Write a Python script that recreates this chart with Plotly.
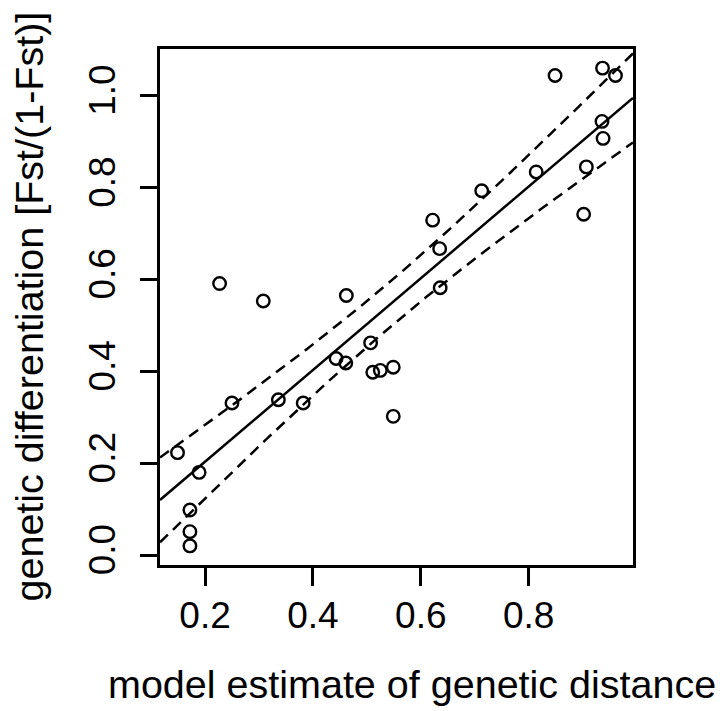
import numpy as np
import plotly.graph_objects as go

# ---- data ----
model_distance = [0.849, 0.937, 0.961, 0.936, 0.938, 0.907, 0.902, 0.814, 0.713, 0.622,
                  0.635, 0.636, 0.227, 0.308, 0.462, 0.507, 0.443, 0.461, 0.511, 0.525,
                  0.549, 0.549, 0.336, 0.382, 0.250, 0.149, 0.189, 0.172, 0.172, 0.172]
fst_ratio = [1.044, 1.060, 1.044, 0.944, 0.907, 0.845, 0.742, 0.834, 0.793, 0.729,
             0.667, 0.582, 0.591, 0.553, 0.565, 0.462, 0.428, 0.418, 0.398, 0.402,
             0.409, 0.302, 0.338, 0.331, 0.331, 0.223, 0.180, 0.098, 0.051, 0.020]
x_ticks = [0.2, 0.4, 0.6, 0.8]
x_tick_labels = ["0.2", "0.4", "0.6", "0.8"]
y_ticks = [0.0, 0.2, 0.4, 0.6, 0.8, 1.0]
y_tick_labels = ["0.0", "0.2", "0.4", "0.6", "0.8", "1.0"]
x_title = "model estimate of genetic distance"
y_title = "genetic differentiation [Fst/(1-Fst)]"
t_crit = 2.048  # 97.5% t quantile, df = 28

x = np.array(model_distance)
y = np.array(fst_ratio)

# R-style axis ranges (4% padding)
def pad(v):
    lo, hi = v.min(), v.max()
    d = (hi - lo) * 0.04
    return [lo - d, hi + d]

xr = pad(x)
yr = pad(y)

# linear regression with 95% confidence band
n = len(x)
b, a = np.polyfit(x, y, 1)
res = y - (a + b * x)
s = np.sqrt(np.sum(res ** 2) / (n - 2))
sxx = np.sum((x - x.mean()) ** 2)
xs = np.linspace(xr[0], xr[1], 200)
fit = a + b * xs
half = t_crit * s * np.sqrt(1.0 / n + (xs - x.mean()) ** 2 / sxx)

FONT = "Liberation Sans, Arial, Helvetica, sans-serif"

fig = go.Figure()
fig.add_trace(go.Scatter(x=xs, y=fit, mode="lines",
                         line=dict(color="black", width=2.5), hoverinfo="skip"))
fig.add_trace(go.Scatter(x=xs, y=fit + half, mode="lines",
                         line=dict(color="black", width=2.5, dash="11px,7px"), hoverinfo="skip"))
fig.add_trace(go.Scatter(x=xs, y=fit - half, mode="lines",
                         line=dict(color="black", width=2.5, dash="11px,7px"), hoverinfo="skip"))
fig.add_trace(go.Scatter(x=x, y=y, mode="markers",
                         marker=dict(symbol="circle-open", size=12.5, color="black",
                                     line=dict(width=2.4, color="black"))))

axis_common = dict(
    showgrid=False, zeroline=False, showline=True, linewidth=2.5, linecolor="black",
    mirror=True, ticks="outside", tickwidth=2.5, tickcolor="black",
    tickfont=dict(family=FONT, size=37, color="black"),
)

fig.update_layout(
    width=726, height=711,
    margin=dict(l=160, r=93, t=49, b=146),
    paper_bgcolor="white", plot_bgcolor="white",
    showlegend=False,
    font=dict(family=FONT, color="black"),
    xaxis=dict(range=xr, tickvals=x_ticks, ticktext=x_tick_labels, ticklen=18,
               ticklabelstandoff=-2, **axis_common),
    yaxis=dict(range=yr, tickvals=y_ticks, ticktext=y_tick_labels, ticklen=17,
               tickangle=-90, ticklabelstandoff=10, **axis_common),
    annotations=[
        dict(text=x_title, xref="paper", yref="paper", x=0.533, y=-0.231,
             xanchor="center", yanchor="middle", showarrow=False,
             font=dict(family=FONT, size=39.5, color="black")),
        dict(text=y_title, xref="paper", yref="paper", x=-0.278, y=0.5,
             xanchor="center", yanchor="middle", textangle=-90, showarrow=False,
             font=dict(family=FONT, size=39.5, color="black")),
    ],
)

fig.write_html("out.html")
